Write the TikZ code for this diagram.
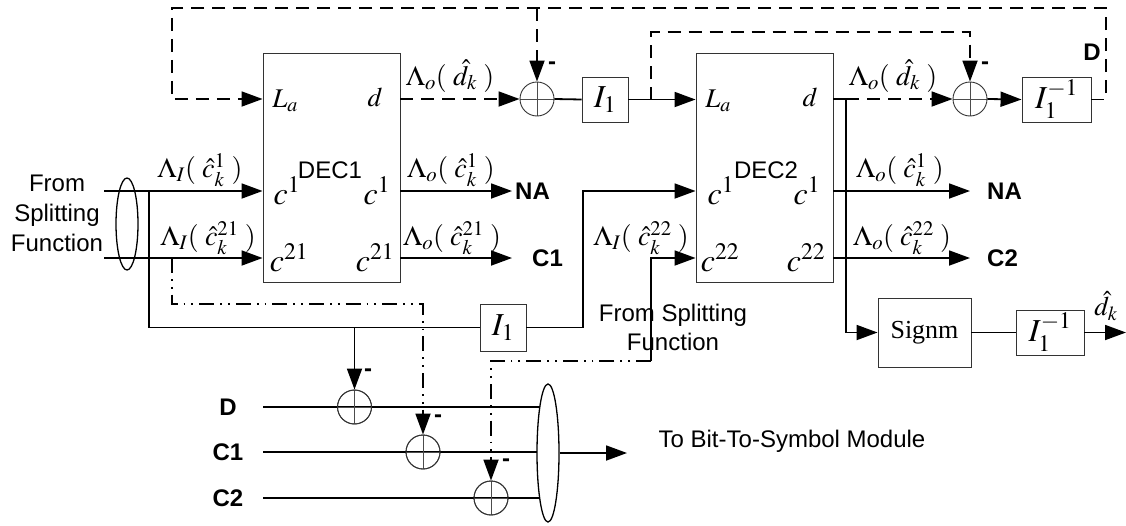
\documentclass[tikz,border=0pt]{standalone}
\usepackage{mathptmx}
\usepackage{fontspec}
\setmainfont{Liberation Sans}
\newfontfamily\serifface{Liberation Serif}
\usetikzlibrary{arrows.meta,shapes.geometric}

\begin{document}
\begin{tikzpicture}[
  x=1pt, y=-1pt,
  every node/.style={font=\fontsize{24}{30}\selectfont},
  block/.style={draw=black!80, line width=0.9pt, inner sep=0pt, fill=white},
  sumnode/.style={circle, draw=black!80, line width=0.9pt, minimum size=34pt, inner sep=0pt,
    path picture={\draw[line width=0.9pt, black!70]
      (path picture bounding box.north) -- (path picture bounding box.south)
      (path picture bounding box.west) -- (path picture bounding box.east);}},
  bus/.style={ellipse, draw, line width=1.3pt, inner sep=0pt},
  wire/.style={line width=1.8pt},
  tip/.style={-{Triangle[length=21pt,width=15pt]}},
  arr/.style={wire, tip},
  dashwire/.style={wire, dash pattern=on 13pt off 8pt},
  dasharr/.style={dashwire, tip},
  dotwire/.style={wire, dash pattern=on 15pt off 6pt on 1.8pt off 6pt on 1.8pt off 6pt},
  dotarr/.style={dotwire, tip},
  port/.style={font=\fontsize{32}{36}\selectfont, inner sep=0pt},
  pletter/.style={font=\fontsize{27}{30}\selectfont, inner sep=0pt},
  mlabel/.style={font=\fontsize{28}{32}\selectfont, inner sep=0pt},
  ilabel/.style={font=\fontsize{32}{36}\selectfont},
  tag/.style={font=\fontsize{24}{28}\selectfont\bfseries, inner sep=0pt},
  minus/.style={font=\fontsize{24}{28}\selectfont\bfseries, inner sep=0pt}
]
  \useasboundingbox (0,0) rectangle (1126,525);

  % Decoders
  \node[block, minimum width=137pt, minimum height=229pt] (dec1) at (331.5,167.5) {};
  \node[block, minimum width=137pt, minimum height=229pt] (dec2) at (764.5,167.5) {};
  \node (dec1name) at (330,170) {DEC1};
  \node (dec2name) at (766,170) {DEC2};

  % Ports
  \node[pletter] (la1) at (285,101) {$L_a$};
  \node[pletter] (d1) at (375,97) {$d$};
  \node[port] (cin1) at (287,191) {$c^1$};
  \node[port] (cout1) at (377,191) {$c^1$};
  \node[port] (cin21) at (289,258) {$c^{21}$};
  \node[port] (cout21) at (375,258) {$c^{21}$};
  \node[pletter] (la2) at (718,101) {$L_a$};
  \node[pletter] (d2) at (810,97) {$d$};
  \node[port] (cin2) at (721,191) {$c^1$};
  \node[port] (cout2) at (807,191) {$c^1$};
  \node[port] (cin22) at (720,258) {$c^{22}$};
  \node[port] (cout22) at (806,258) {$c^{22}$};

  % Adders and interleavers
  \node[sumnode] (sumA) at (537,99) {};
  \node[sumnode] (sumB) at (970,99) {};
  \node[sumnode] (sumD) at (354.5,407) {};
  \node[sumnode] (sumC1) at (423,452) {};
  \node[sumnode] (sumC2) at (491,498) {};
  \node[block, ilabel, minimum width=46pt, minimum height=45pt] (ilvA) at (605,99.5) {$I_1$};
  \node[block, ilabel, minimum width=69pt, minimum height=45pt] (dilvA) at (1056.5,99.5) {$I_1^{-1}$};
  \node[block, ilabel, minimum width=46pt, minimum height=47pt] (ilvB) at (503,327.5) {$I_1$};
  \node[block, minimum width=93pt, minimum height=69pt,
        font=\serifface\fontsize{26}{30}\selectfont] (signm) at (924.5,332.5) {Signm};
  \node[block, ilabel, minimum width=68pt, minimum height=45pt] (dilvB) at (1050,332.5) {$I_1^{-1}$};

  % Split input
  \node[bus, minimum width=22pt, minimum height=92pt] (ellIn) at (127,224) {};
  \node[align=center] (srcA) at (57,213) {From\\Splitting\\Function};
  \coordinate (inA) at (104,191);
  \coordinate (inB) at (104,258);
  \draw[arr] (inA) -- (inA -| dec1.west);
  \draw[arr] (inB) -- (inB -| dec1.west);
  \node[mlabel] (lamIA) at (200,170) {$\Lambda_I(\;\hat{c}_k^1\;)$};
  \node[mlabel] (lamIB) at (208,238) {$\Lambda_I(\;\hat{c}_k^{21}\;)$};

  % Interleaved branch to DEC2
  \coordinate (tapA) at (149,191);
  \coordinate (riseA) at (583,191);
  \draw[wire] (tapA) |- (ilvB.west);
  \draw[arr] (ilvB.east) -| (riseA) -- (riseA -| dec2.west);
  \draw[arr] (sumD.north |- ilvB.west) -- (sumD.north);

  % Dash-dot branches
  \coordinate (tapB) at (172,258);
  \coordinate (bendB) at (172,304);
  \draw[dotarr] (tapB) -- (bendB) -| (sumC1.north);
  \coordinate (inC) at (651,361);
  \coordinate (inCtop) at (651,258);
  \draw[arr] (inC) -- (inCtop) -- (inCtop -| dec2.west);
  \draw[dotarr] (inC) -| (sumC2.north);
  \node[mlabel] (lamIC) at (641,238) {$\Lambda_I(\;\hat{c}_k^{22}\;)$};
  \node[align=center, font=\fontsize{24}{29}\selectfont] (srcB) at (673,327) {From Splitting\\Function};

  % Extrinsic exchange
  \coordinate (doutA) at (dec1.east |- sumA);
  \draw[dasharr] (doutA) -- (sumA.west);
  \draw[wire] (sumA.east) -- (ilvA.west);
  \draw[arr] (ilvA.east) -- (ilvA.east -| dec2.west);
  \coordinate (tapE) at (651,99.5);
  \coordinate (loopB) at (651,32);
  \draw[dasharr] (tapE) -- (loopB) -| (sumB.north);
  \coordinate (doutB) at (846,99);
  \draw[wire] (dec2.east |- sumB) -- (doutB);
  \draw[dasharr] (doutB) -- (sumB.west);
  \draw[arr] (sumB.east) -- (dilvA.west);
  \coordinate (loopC) at (1106,8);
  \coordinate (loopD) at (172,8);
  \coordinate (loopE) at (172,99);
  \draw[dasharr] (dilvA.east) -| (loopC) -- (loopD) -- (loopE) -- (loopE -| dec1.west);
  \draw[dasharr] (sumA.north |- loopC) -- (sumA.north);
  \node[mlabel] (lamOA) at (450,76) {$\Lambda_o(\;\hat{d}_k\;)$};
  \node[mlabel] (lamOB) at (893,76) {$\Lambda_o(\;\hat{d}_k\;)$};
  \node[tag] (tagD) at (1092,52) {D};

  % Hard decision
  \draw[arr] (doutB) |- (signm.west);
  \draw[wire] (signm.east) -- (dilvB.west);
  \coordinate (outD) at (1126,332.5);
  \draw[arr] (dilvB.east) -- (outD);
  \node[pletter] (dhat) at (1106,306) {$\hat{d}_k$};

  % Decoder outputs
  \coordinate (naA) at (512,191);
  \coordinate (cA) at (512,258);
  \coordinate (naB) at (970,191);
  \coordinate (cB) at (970,258);
  \draw[arr] (dec1.east |- naA) -- (naA);
  \draw[arr] (dec1.east |- cA) -- (cA);
  \draw[arr] (dec2.east |- naB) -- (naB);
  \draw[arr] (dec2.east |- cB) -- (cB);
  \node[mlabel] (lamOC) at (451,170) {$\Lambda_o(\;\hat{c}_k^1\;)$};
  \node[mlabel] (lamOD) at (452,238) {$\Lambda_o(\;\hat{c}_k^{21}\;)$};
  \node[mlabel] (lamOE) at (900,170) {$\Lambda_o(\;\hat{c}_k^1\;)$};
  \node[mlabel] (lamOF) at (902,238) {$\Lambda_o(\;\hat{c}_k^{22}\;)$};
  \node[tag, anchor=west] (tagNA1) at (515,191) {NA};
  \node[tag, anchor=west] (tagC1) at (532,258) {C1};
  \node[tag, anchor=west] (tagNA2) at (987,191) {NA};
  \node[tag, anchor=west] (tagC2) at (987,258) {C2};

  % Minus signs
  \node[minus] (mA) at (552,66) {-};
  \node[minus] (mB) at (985,66) {-};
  \node[minus] (mD) at (368,373) {-};
  \node[minus] (mC1) at (438,419) {-};
  \node[minus] (mC2) at (506,463) {-};

  % Symbol mapping
  \node[tag] (tagDb) at (228,407) {D};
  \node[tag] (tagC1b) at (228,452) {C1};
  \node[tag] (tagC2b) at (228,498) {C2};
  \coordinate (startD) at (263,407);
  \coordinate (startC1) at (263,452);
  \coordinate (startC2) at (263,498);
  \draw[wire] (startD) -- (startD -| 548,0);
  \draw[wire] (startC1) -- (startC1 -| 548,0);
  \draw[wire] (startC2) -- (startC2 -| 548,0);
  \node[sumnode] at (sumD) {};
  \node[sumnode] at (sumC1) {};
  \node[sumnode] at (sumC2) {};
  \node[bus, fill=white, minimum width=22pt, minimum height=138pt] (ellOut) at (548,453) {};
  \coordinate (toMap) at (627,453);
  \draw[arr] (ellOut.east) -- (toMap);
  \node (dest) at (792,441) {To Bit-To-Symbol Module};
\end{tikzpicture}
\end{document}
